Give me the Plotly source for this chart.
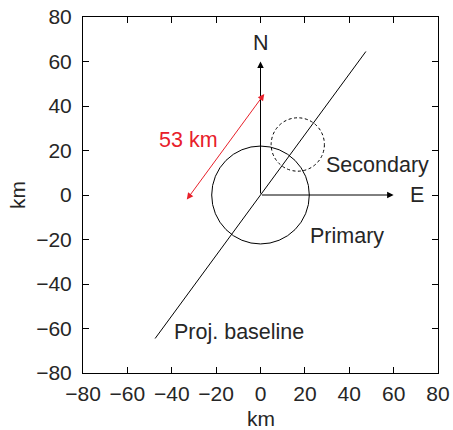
import plotly.graph_objects as go

# ---- data (km) ----
axis_range = [-80, 80]
tick_vals = [-80, -60, -40, -20, 0, 20, 40, 60, 80]

origin = [0, 0]
north_tip = [0, 60]
east_tip = [60, 0]
north_label = [0, 68.5]
east_label = [66.5, 0]

primary_center = [0, 0]
primary_radius = 22
secondary_center = [16.8, 22.7]
secondary_radius = 12

baseline_x = [-47.5, 47.5]
baseline_y = [-64.5, 64.5]

sep_arrow_start = [-33.7, -2.7]
sep_arrow_end = [1.7, 45.4]
sep_label = "53 km"
sep_label_pos = [-32.5, 24.5]

primary_label_pos = [21.5, -18.5]
secondary_label_pos = [28.7, 13.5]
baseline_label_pos = [-39.8, -61.5]

FONT = "Liberation Sans, Arial, sans-serif"
TXT = "#262626"
RED = "#e8202a"

fig = go.Figure()

fig.add_trace(go.Scatter(x=baseline_x, y=baseline_y, mode="lines",
                         line=dict(color="black", width=1), showlegend=False,
                         hoverinfo="skip"))

shapes = []
for c, r, dash in [(primary_center, primary_radius, "solid"),
                   (secondary_center, secondary_radius, "3px,2.5px")]:
    shapes.append(dict(type="circle", xref="x", yref="y",
                       x0=c[0] - r, x1=c[0] + r, y0=c[1] - r, y1=c[1] + r,
                       line=dict(color="black", width=1, dash=dash)))

annotations = []
# N and E arrows
for tip in (north_tip, east_tip):
    annotations.append(dict(x=tip[0], y=tip[1], ax=origin[0], ay=origin[1],
                            xref="x", yref="y", axref="x", ayref="y",
                            text="", showarrow=True, arrowhead=2, arrowsize=1.3,
                            arrowwidth=1, arrowcolor="black"))
# red separation arrow (double-headed)
annotations.append(dict(x=sep_arrow_end[0], y=sep_arrow_end[1],
                        ax=sep_arrow_start[0], ay=sep_arrow_start[1],
                        xref="x", yref="y", axref="x", ayref="y",
                        text="", showarrow=True, arrowhead=2, startarrowhead=2,
                        arrowside="end+start", arrowsize=1.3, startarrowsize=1.3,
                        arrowwidth=1, arrowcolor=RED))

LBL = 21.5

def label(pos, text, xanchor="left", color=TXT):
    return dict(x=pos[0], y=pos[1], xref="x", yref="y", text=text,
                showarrow=False, xanchor=xanchor, yanchor="middle",
                font=dict(family=FONT, size=LBL, color=color))

annotations += [
    label(north_label, "N", "center"),
    label(east_label, "E", "left"),
    label(sep_label_pos, sep_label, "center", RED),
    label(primary_label_pos, "Primary"),
    label(secondary_label_pos, "Secondary"),
    label(baseline_label_pos, "Proj. baseline"),
    # axis titles
    dict(x=0.5, y=0, xref="paper", yref="paper", yshift=-45, text="km",
         showarrow=False, xanchor="center", yanchor="middle",
         font=dict(family=FONT, size=21, color=TXT)),
    dict(x=0, y=0.5, xref="paper", yref="paper", xshift=-66, text="km",
         textangle=-90, showarrow=False, xanchor="center", yanchor="middle",
         font=dict(family=FONT, size=21, color=TXT)),
]

axis_common = dict(range=axis_range, tickvals=tick_vals, ticks="inside",
                   ticklen=6, tickcolor="black", showline=True, linecolor="black",
                   linewidth=1, mirror="ticks", showgrid=False, zeroline=False,
                   automargin=False,
                   tickfont=dict(family=FONT, size=21, color=TXT))

fig.update_layout(
    width=453, height=430,
    margin=dict(l=83, r=15, t=17, b=57),
    paper_bgcolor="white", plot_bgcolor="white",
    xaxis=dict(axis_common, ticklabelstandoff=2),
    yaxis=dict(axis_common, ticklabelstandoff=6),
    shapes=shapes, annotations=annotations,
    showlegend=False,
)

fig.write_html("out.html")
